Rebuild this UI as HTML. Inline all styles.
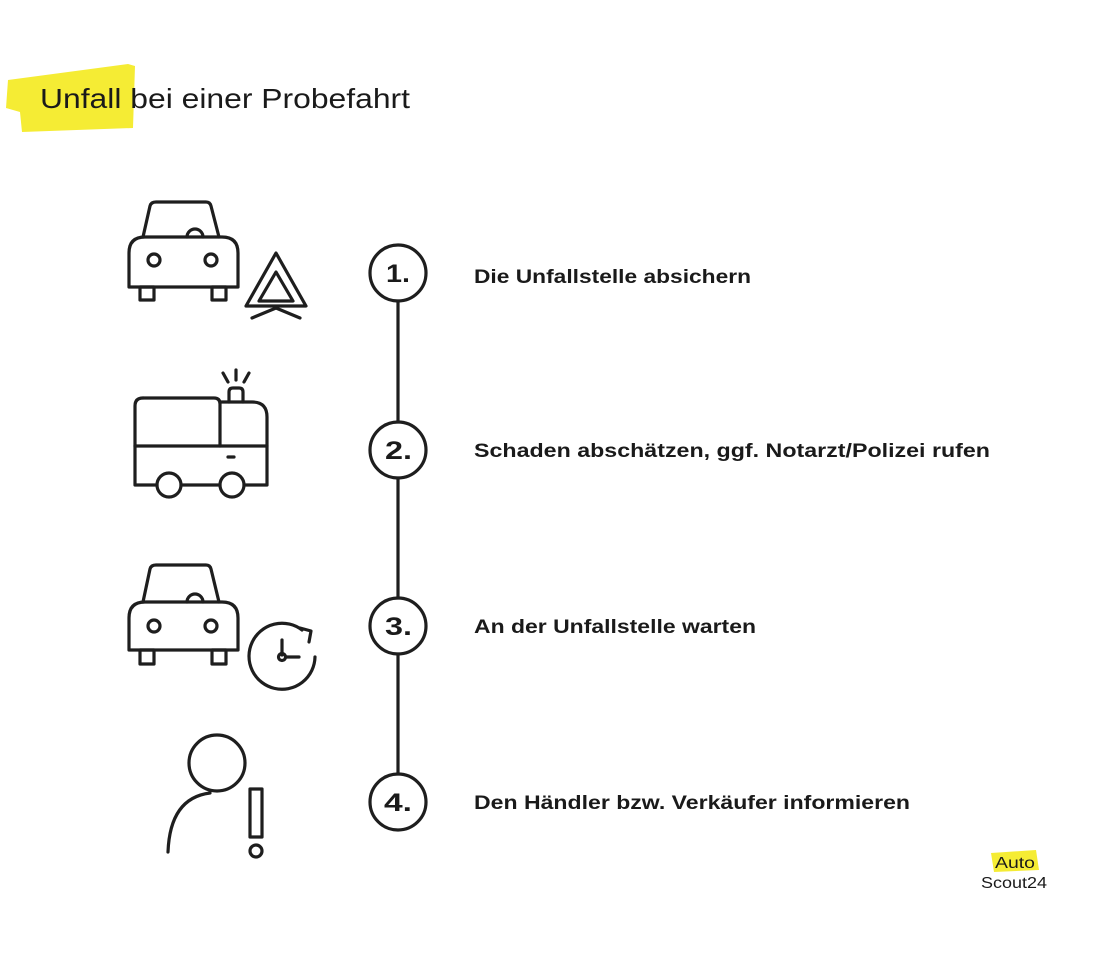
<!DOCTYPE html>
<html><head><meta charset="utf-8"><style>
html,body{margin:0;padding:0;background:#fff;}
svg{display:block;}
text{font-family:"Liberation Sans",sans-serif;fill:#1a1a1a;}
</style></head><body>
<svg width="1100" height="979" viewBox="0 0 1100 979" xmlns="http://www.w3.org/2000/svg">
<!-- title highlight -->
<path d="M8 80 L128 64 L135 66 L133 128 L22 132 L20 112 L6 108 Z" fill="#f5ec34"/>
<text x="40" y="108" font-size="28" textLength="370" lengthAdjust="spacingAndGlyphs">Unfall bei einer Probefahrt</text>

<g fill="none" stroke="#1e1e1e" stroke-width="3.2" stroke-linejoin="round" stroke-linecap="round">
<!-- timeline -->
<line x1="398" y1="301" x2="398" y2="422"/>
<line x1="398" y1="478" x2="398" y2="598"/>
<line x1="398" y1="654" x2="398" y2="774"/>
<circle cx="398" cy="273" r="28"/>
<circle cx="398" cy="450" r="28"/>
<circle cx="398" cy="626" r="28"/>
<circle cx="398" cy="802" r="28"/>

<!-- car 1 -->
<path d="M143 237 L150 206 Q151 202 156 202 L206 202 Q210 202 211 206 L219 237"/>
<path d="M187 237 A8 8 0 0 1 203 237"/>
<path d="M145 237 L222 237 Q238 237 238 253 L238 287 L129 287 L129 253 Q129 237 145 237 Z"/>
<circle cx="154" cy="260" r="6"/>
<circle cx="211" cy="260" r="6"/>
<rect x="140" y="287" width="14" height="13"/>
<rect x="212" y="287" width="14" height="13"/>
<!-- warning triangle -->
<path d="M276 253 L306 306 L246 306 Z"/>
<path d="M276 272 L293 301 L259 301 Z"/>
<path d="M252 318 L276 308 L300 318"/>

<!-- truck -->
<path d="M143 398 L214 398 Q220 398 220 404 L220 446"/>
<path d="M135 446 L135 406 Q135 398 143 398"/>
<path d="M220 402 L252 402 Q267 402 267 417 L267 485 L244 485"/>
<path d="M135 446 L135 485 L157 485"/>
<line x1="181" y1="485" x2="220" y2="485"/>
<line x1="135" y1="446" x2="267" y2="446"/>
<circle cx="169" cy="485" r="12"/>
<circle cx="232" cy="485" r="12"/>
<path d="M229 402 L229 392 Q229 388 233 388 L239 388 Q243 388 243 392 L243 402"/>
<line x1="223" y1="373" x2="228" y2="382"/>
<line x1="236" y1="370" x2="236" y2="380"/>
<line x1="249" y1="373" x2="244" y2="382"/>
<line x1="228" y1="457" x2="234" y2="457"/>

<!-- car 3 -->
<path d="M143 602 L150 569 Q151 565 156 565 L206 565 Q210 565 211 569 L219 602"/>
<path d="M187 602 A8 8 0 0 1 203 602"/>
<path d="M145 602 L222 602 Q238 602 238 618 L238 650 L129 650 L129 618 Q129 602 145 602 Z"/>
<circle cx="154" cy="626" r="6"/>
<circle cx="211" cy="626" r="6"/>
<rect x="140" y="650" width="14" height="14"/>
<rect x="212" y="650" width="14" height="14"/>
<!-- clock -->
<path d="M315 657 A33 33 0 1 1 302 630"/>
<path d="M300 628 L311 631 L309 642"/>
<line x1="282" y1="640" x2="282" y2="655"/>
<line x1="286" y1="657" x2="299" y2="657"/>
<circle cx="282" cy="657" r="3.5"/>

<!-- person -->
<circle cx="217" cy="763" r="28"/>
<path d="M210 793 Q170 798 168 852"/>
<rect x="250" y="789" width="12" height="48"/>
<circle cx="256" cy="851" r="6"/>
</g>

<g font-weight="bold" font-size="25">
<text x="386" y="282" textLength="24" lengthAdjust="spacingAndGlyphs">1.</text>
<text x="385" y="459" textLength="27" lengthAdjust="spacingAndGlyphs">2.</text>
<text x="385" y="635" textLength="27" lengthAdjust="spacingAndGlyphs">3.</text>
<text x="384" y="811" textLength="28" lengthAdjust="spacingAndGlyphs">4.</text>
</g>
<g font-weight="bold" font-size="19">
<text x="474" y="283" textLength="277" lengthAdjust="spacingAndGlyphs">Die Unfallstelle absichern</text>
<text x="474" y="457" textLength="516" lengthAdjust="spacingAndGlyphs">Schaden abschätzen, ggf. Notarzt/Polizei rufen</text>
<text x="474" y="633" textLength="282" lengthAdjust="spacingAndGlyphs">An der Unfallstelle warten</text>
<text x="474" y="809" textLength="436" lengthAdjust="spacingAndGlyphs">Den Händler bzw. Verkäufer informieren</text>
</g>

<!-- logo -->
<path d="M991 853 L1036 850 L1039 870 L994 872 Z" fill="#f5ec34"/>
<text x="995" y="868" font-size="16" textLength="40" lengthAdjust="spacingAndGlyphs">Auto</text>
<text x="981" y="888" font-size="16" textLength="66" lengthAdjust="spacingAndGlyphs">Scout24</text>
</svg>
</body></html>
